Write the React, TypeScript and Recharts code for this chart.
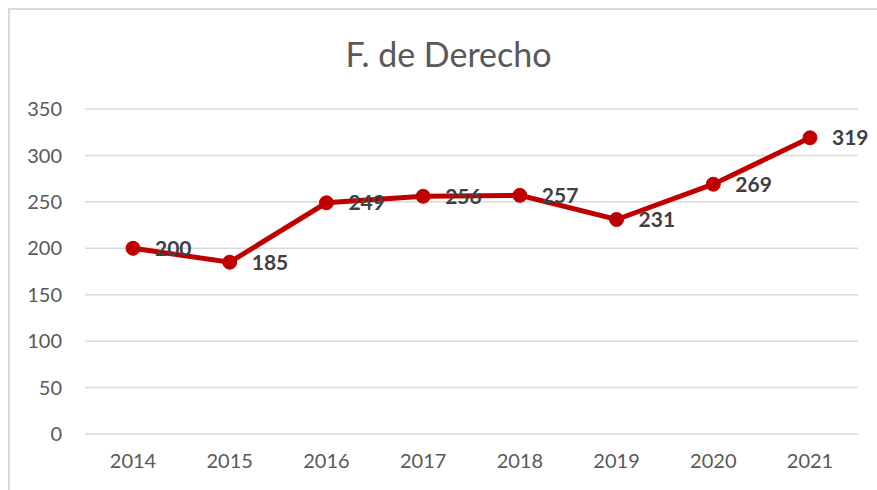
import React from "react";
import {LineChart, Line, XAxis, YAxis, CartesianGrid, LabelList} from "recharts";

const years = ["2014", "2015", "2016", "2017", "2018", "2019", "2020", "2021"];
const students = [200, 185, 249, 256, 257, 231, 269, 319];
const yTicks = [0, 50, 100, 150, 200, 250, 300, 350];

const data = years.map((year, i) => ({year, value: students[i]}));

const FONT = "Lato, 'Open Sans', sans-serif";

// value label drawn to the right of each marker
function ValueLabel(props: any) {
  const {x, y, value} = props;
  return (
    <text
      x={Number(x) + 22}
      y={Number(y)}
      dy="0.35em"
      fill="#404040"
      fontFamily={FONT}
      fontSize={21}
      fontWeight="bold"
      textAnchor="start"
    >
      {value}
    </text>
  );
}

export default function App() {
  return (
    <div style={{position: "absolute", left: 0, top: 0, width: 877, height: 490, background: "#fff"}}>
      <div
        style={{
          position: "absolute",
          left: 8,
          top: 8,
          right: 0,
          bottom: 0,
          borderLeft: "2px solid #d9d9d9",
          borderTop: "2px solid #d9d9d9",
        }}
      />
      <div
        style={{
          position: "absolute",
          left: 0,
          top: 33,
          width: 897,
          textAlign: "center",
          fontFamily: FONT,
          fontSize: 34,
          color: "#595959",
        }}
      >
        F. de Derecho
      </div>
      <LineChart
        width={877}
        height={490}
        data={data}
        margin={{top: 109, right: 19, left: 25, bottom: 0}}
        style={{position: "absolute", left: 0, top: 0}}
      >
        <CartesianGrid stroke="#d9d9d9" strokeWidth={1.5} vertical={false} />
        <XAxis
          dataKey="year"
          axisLine={false}
          tickLine={false}
          tickSize={0}
          tickMargin={20}
          height={56}
          padding={{left: 48, right: 48}}
          tick={{fontFamily: FONT, fontSize: 20, fill: "#595959"}}
        />
        <YAxis
          domain={[0, 350]}
          ticks={yTicks}
          axisLine={false}
          tickLine={false}
          tickSize={0}
          tickMargin={23}
          width={60}
          tick={{fontFamily: FONT, fontSize: 20, fill: "#595959"}}
        />
        <Line
          type="linear"
          dataKey="value"
          stroke="#c00000"
          strokeWidth={5}
          dot={{r: 7, fill: "#c00000", stroke: "#c00000", strokeWidth: 1}}
          isAnimationActive={false}
        >
          <LabelList dataKey="value" content={<ValueLabel />} />
        </Line>
      </LineChart>
    </div>
  );
}
